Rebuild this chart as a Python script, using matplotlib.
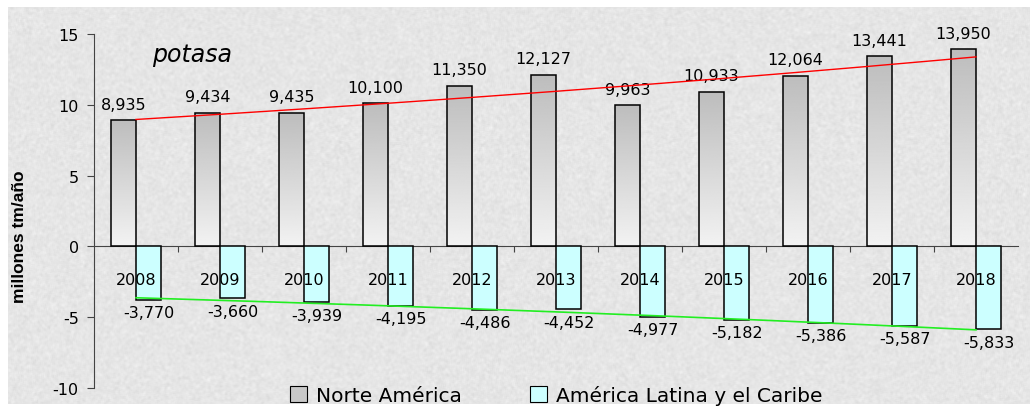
import numpy as np
import matplotlib
matplotlib.use('Agg')
import matplotlib.pyplot as plt
from matplotlib.patches import Patch, Rectangle

# potash balance by region, millions of t/year
years = ['2008', '2009', '2010', '2011', '2012', '2013', '2014', '2015', '2016', '2017', '2018']
norte_america = [8.935, 9.434, 9.435, 10.100, 11.350, 12.127, 9.963, 10.933, 12.064, 13.441, 13.950]
america_latina = [-3.770, -3.660, -3.939, -4.195, -4.486, -4.452, -4.977, -5.182, -5.386, -5.587, -5.833]

plt.rcParams['font.family'] = ['DejaVu Sans']
plt.rcParams['axes.unicode_minus'] = False

fig = plt.figure(figsize=(10.36, 4.10), dpi=100)

# granite-like backdrop
bg = fig.add_axes([0.008, 0.012, 0.986, 0.968], zorder=-10)
rng = np.random.default_rng(7)
noise = rng.normal(0, 1, (400, 1020))
k = np.ones(3) / 3
noise = np.apply_along_axis(lambda r: np.convolve(r, k, mode='same'), 1, noise)
noise = np.apply_along_axis(lambda c: np.convolve(c, k, mode='same'), 0, noise)
tex = 0.90 + 0.035 * noise
bg.imshow(tex, cmap='gray', vmin=0, vmax=1, aspect='auto', interpolation='bilinear')
bg.axis('off')

ax = fig.add_axes([0.0907, 0.0512, 0.8919, 0.8634])
ax.patch.set_alpha(0)

x = np.arange(len(years))
w = 0.29
off = 0.15
lbl = 11.5

# gradient fill for the Norte America bars
grad = np.linspace(0.95, 0.74, 256).reshape(-1, 1)
for xi, v in zip(x, norte_america):
    left = xi - off - w / 2
    im = ax.imshow(grad, cmap='gray', vmin=0, vmax=1, aspect='auto',
                   extent=[left, left + w, 0, v], origin='lower', zorder=2)
    r = Rectangle((left, 0), w, v, facecolor='none', edgecolor='black', lw=1.1, zorder=3)
    ax.add_patch(r)
    im.set_clip_path(r)
    ax.annotate(f'{v * 1000:,.0f}', (xi - off, v), xytext=(0, 6), textcoords='offset points',
                ha='center', va='bottom', fontsize=lbl)

ax.bar(x + off, america_latina, w, color='#ccffff', edgecolor='black', lw=1.1, zorder=3)
for xi, v in zip(x, america_latina):
    ax.annotate(f'{v * 1000:,.0f}', (xi + off, v), xytext=(0, -4), textcoords='offset points',
                ha='center', va='top', fontsize=lbl)

for xi, yr in zip(x, years):
    ax.text(xi, -2.35, yr, ha='center', va='center', fontsize=lbl, zorder=4)

# exponential trend lines
na = np.array(norte_america)
la = np.array(america_latina)
c1 = np.polyfit(x, np.log(na), 1)
c2 = np.polyfit(x, np.log(-la), 1)
xs = np.linspace(0, len(years) - 1, 200)
ax.plot(xs, np.exp(np.polyval(c1, xs)), color='red', lw=1, zorder=4)
ax.plot(xs, -np.exp(np.polyval(c2, xs)), color='#22ee22', lw=1.2, zorder=4)

ax.set_xlim(-0.5, len(years) - 0.5)
ax.set_ylim(-10, 15)
ax.set_yticks([-10, -5, 0, 5, 10, 15])
ax.tick_params(axis='y', labelsize=lbl, length=5, pad=6, color='#444444')
ax.spines['left'].set_color('#444444')
ax.spines['top'].set_visible(False)
ax.spines['right'].set_visible(False)
ax.spines['bottom'].set_position(('data', 0))
ax.spines['bottom'].set_color('#444444')
ax.set_xticks(np.arange(0.5, len(years) - 0.5, 1))
ax.set_xticklabels([])
ax.tick_params(axis='x', length=4, color='#444444')

ax.set_ylabel('millones tm/año', fontsize=12.5, fontweight='bold', family='Liberation Sans')
ax.yaxis.set_label_coords(-0.073, 0.43)
ax.text(0.667, 13.56, 'potasa', fontsize=17, style='italic', ha='center', va='center')

handles = [Patch(facecolor='#c8c8c8', edgecolor='black', lw=0.8),
           Patch(facecolor='#ccffff', edgecolor='black', lw=0.8)]
fig.legend(handles, ['Norte América', 'América Latina y el Caribe'], ncol=2,
           loc='lower center', bbox_to_anchor=(0.537, -0.035), frameon=False,
           fontsize=14.5, handlelength=0.85, handleheight=0.85, handletextpad=0.45,
           columnspacing=3.4)

fig.savefig('out.png', dpi=100)
